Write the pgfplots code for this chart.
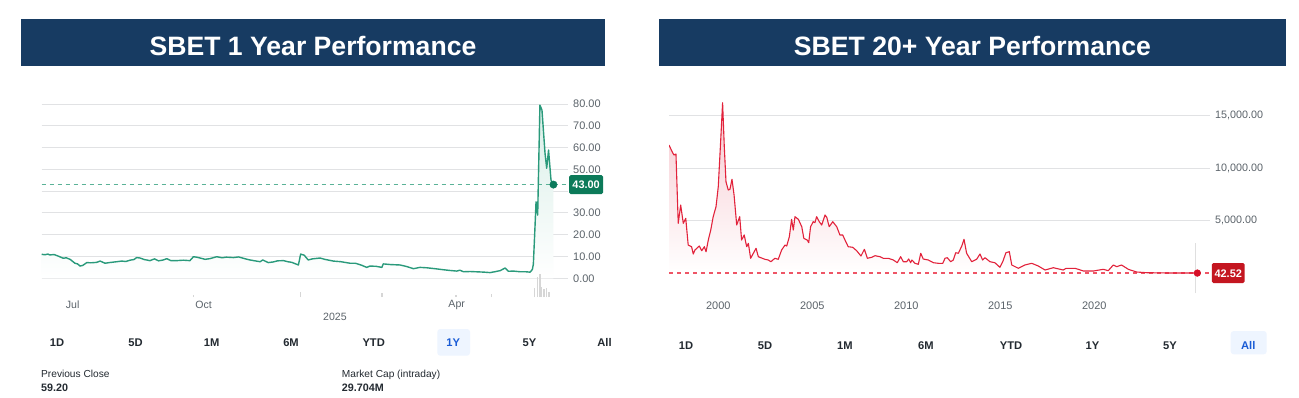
\documentclass[border=0pt]{standalone}
\usepackage{pgfplots}
\pgfplotsset{compat=1.18}
\usepackage{pgfplotstable}
\usepackage{fontspec}
\setmainfont{Liberation Sans}
\definecolor{banner}{HTML}{173B62}
\definecolor{tealline}{HTML}{2A9A7B}
\definecolor{tealdash}{HTML}{5AB297}
\definecolor{tealdot}{HTML}{0B7A5B}
\definecolor{tealbox}{HTML}{0C7A59}
\definecolor{tealfill}{HTML}{D8EEE7}
\definecolor{redline}{HTML}{E2223B}
\definecolor{rdsh}{HTML}{EE5566}
\definecolor{reddot}{HTML}{D70F27}
\definecolor{redbox}{HTML}{C41620}
\definecolor{redfill}{HTML}{F7C9D0}
\definecolor{gridgray}{HTML}{E1E2E4}
\definecolor{labgray}{HTML}{5B636A}
\definecolor{btntext}{HTML}{232A31}
\definecolor{btnblue}{HTML}{1A5CD6}
\definecolor{btnbg}{HTML}{EEF5FF}
\definecolor{vol}{HTML}{D6D6D6}

\pgfplotstableread{
d v
0 11.0
1.5 10.8
3 11.1
4 10.7
6 10.9
8 10.2
10.5 9.2
12 9.4
14 8.6
16.2 6.9
17.5 6.6
18.7 5.6
20 5.9
22 7.2
24 7.1
26.8 7.3
28.5 7.9
30.9 6.9
33 7.2
36.6 7.6
39 7.9
41 7.7
43.1 8.3
45 8.6
46.3 9.5
48 9.3
50 8.6
52.8 8.1
55 8.9
57 8.0
59.3 8.4
61 9.0
63 8.1
65.9 8.1
69 8.3
72.3 8.1
74 9.9
76 9.6
79.7 8.7
82 9.0
85.4 9.9
88 9.4
90 9.7
93.5 9.5
96 9.8
99 9.0
101.6 8.4
104 8.0
106.5 7.6
107.8 8.4
110.5 7.2
113 7.5
115 8.0
117.9 8.1
120 7.6
122 7.3
125.2 6.1
126.3 11.1
128 10.6
130 8.4
132 8.9
135.8 9.3
138 8.7
142.2 7.9
146 7.6
150.4 6.9
153 6.9
156 6.0
158.5 5.0
160.1 5.6
163 5.5
165.9 5.0
166.6 6.6
170 6.3
174.8 6.1
178 5.4
181.3 4.4
184.5 5.0
188 4.8
192.7 4.3
196 3.9
199 3.6
202.4 3.3
204 3.7
205.7 3.0
209 3.1
213.8 2.9
216 2.8
218.7 2.6
221 3.0
223.6 3.5
226 4.7
227.6 3.2
230 3.3
233.3 3.0
236 3.0
238.2 2.8
239.3 4.0
239.8 6.5
240.6 23.7
241.1 35.1
241.9 29.0
243 79.5
244 77.2
245.5 57.3
246.3 50.5
247.2 58.9
248.4 45.1
249.6 43.0
}\lefttab

\pgfplotstableread{
d h
74 2
126.3 5
166 4
202 2
219.5 3
240.3 9
241.7 20
242.7 14
243.1 23
243.8 10
245 8
246.2 9
247.5 5
}\leftvol

\pgfplotstableread{
yr v
1997.38 12192
1997.52 11651
1997.64 11243
1997.75 11338
1997.87 4763
1998.00 6499
1998.14 4763
1998.27 5237
1998.40 2704
1998.58 2543
1998.67 1850
1998.76 2230
1998.99 2609
1999.12 2163
1999.26 2543
1999.35 2068
1999.47 3178
1999.60 4127
1999.73 5389
1999.88 6338
2000.00 8235
2000.13 12666
2000.23 16205
2000.32 12030
2000.41 8710
2000.53 7922
2000.62 7989
2000.73 8937
2000.84 7448
2000.98 4601
2001.14 5389
2001.24 3178
2001.38 3653
2001.51 2543
2001.60 2865
2001.72 1442
2002.01 2391
2002.13 1594
2002.48 1347
2002.66 1281
2002.80 1120
2003.01 1442
2003.19 1347
2003.37 2230
2003.55 2704
2003.64 2609
2003.78 3491
2003.90 5142
2003.99 4127
2004.08 5389
2004.26 5142
2004.44 4440
2004.55 3340
2004.73 3178
2004.81 2922
2004.91 4440
2005.05 4915
2005.14 4820
2005.23 5389
2005.37 4915
2005.50 4601
2005.68 5550
2005.77 5332
2005.90 4440
2006.09 4915
2006.30 4440
2006.47 3653
2006.62 3653
2006.74 3178
2006.91 2543
2007.15 2486
2007.36 2163
2007.59 1660
2007.77 2296
2007.93 1442
2008.16 1537
2008.34 1689
2008.60 1594
2008.78 1442
2009.04 1442
2009.31 1281
2009.52 1025
2009.70 1594
2009.84 1120
2010.02 1120
2010.13 1376
2010.23 1025
2010.30 1281
2010.46 968
2010.64 873
2010.77 1917
2010.90 1376
2011.17 1281
2011.44 1025
2011.70 968
2011.94 968
2012.06 1442
2012.18 1499
2012.36 1120
2012.50 1281
2012.63 1973
2012.77 1917
2012.95 2609
2013.07 3245
2013.21 1917
2013.48 1120
2013.74 1347
2013.92 1850
2014.06 1281
2014.19 1499
2014.45 1120
2014.71 1025
2014.98 588
2015.13 1120
2015.30 1973
2015.48 2068
2015.61 806
2015.96 493
2016.31 806
2016.67 968
2017.02 712
2017.38 332
2017.82 550
2018.35 332
2018.50 493
2018.98 493
2019.42 237
2019.95 237
2020.48 398
2020.74 266
2021.01 806
2021.19 645
2021.45 806
2021.81 398
2022.25 142
2022.78 76
2023.85 50
2025.48 42.52
}\righttab

\begin{document}
\begin{tikzpicture}[x=1bp,y=1bp]
\fill[white] (0,0) rectangle (1299,397);
% banners
\fill[banner] (21,331) rectangle (605,378);
\fill[banner] (659,331) rectangle (1286,378);
\node[anchor=base, text=white, inner sep=0pt, font=\fontsize{26.7}{30}\selectfont\bfseries] at (313,342) {SBET 1 Year Performance};
\node[anchor=base, text=white, inner sep=0pt, font=\fontsize{26.7}{30}\selectfont\bfseries] at (972.5,342) {SBET 20+ Year Performance};

% ---------- left chart ----------
\begin{axis}[
  at={(41.7bp,100bp)}, anchor=south west,
  scale only axis, width=526.3bp, height=193bp,
  xmin=0, xmax=256.7, ymin=-8.6, ymax=80,
  clip mode=individual,
  axis line style={draw=none},
  major tick length=0pt,
  ytick={0,10,20,30,40,50,60,70,80},
  yticklabels={0.00,10.00,20.00,30.00,{},50.00,60.00,70.00,80.00},
  yticklabel pos=right,
  ymajorgrids=true, major grid style={draw=gridgray, line width=0.9bp},
  yticklabel style={font=\fontsize{11}{12}\selectfont, text=labgray, anchor=west, inner sep=0pt, xshift=5bp},
  xtick={15.1,79,202.4}, xticklabels={Jul,Oct,Apr},
  xticklabel style={font=\fontsize{10.6}{12}\selectfont, text=labgray, inner sep=0pt, yshift=-3.5bp},
  extra x ticks={143}, extra x tick labels={2025},
  extra x tick style={xticklabel style={yshift=-12.6bp}},
]
\addplot[draw=none, top color=tealfill, bottom color=white] table[x=d,y=v] {\lefttab} \closedcycle;
\addplot[draw=tealdash, line width=1bp, dash pattern=on 4bp off 4bp] coordinates {(0,43) (256.7,43)};
\addplot[draw=tealline, line width=1.4bp, line join=round] table[x=d,y=v] {\lefttab};
\addplot[only marks, mark=*, mark size=3.7bp, tealdot] coordinates {(249.6,43)};
\node[anchor=west, fill=tealbox, text=white, font=\fontsize{11}{12}\selectfont\bfseries, inner xsep=3.2bp, inner ysep=5.5bp, text height=8bp, text depth=0bp, rounded corners=1.5bp, xshift=1bp] at (axis cs:256.7,43) {43.00};
\end{axis}
\begin{axis}[
  at={(41.7bp,100bp)}, anchor=south west,
  scale only axis, width=526.3bp, height=193bp,
  xmin=0, xmax=256.7, ymin=0, ymax=193,
  hide axis,
]
\addplot[ycomb, vol, line width=1.4bp] table[x=d,y=h] {\leftvol};
\end{axis}

% ---------- right chart ----------
\begin{axis}[
  at={(669bp,104bp)}, anchor=south west,
  scale only axis, width=541bp, height=193.4bp,
  xmin=1997.38, xmax=2026.155, ymin=-1850, ymax=16500,
  clip mode=individual,
  axis line style={draw=none},
  major tick length=0pt,
  scaled y ticks=false,
  ytick={5000,10000,15000},
  yticklabels={{5,000.00},{10,000.00},{15,000.00}},
  yticklabel pos=right,
  ymajorgrids=true, major grid style={draw=gridgray, line width=0.9bp},
  yticklabel style={font=\fontsize{10.8}{12}\selectfont, text=labgray, anchor=west, inner sep=0pt, xshift=5bp},
  xtick={2000,2005,2010,2015,2020}, xticklabels={2000,2005,2010,2015,2020},
  xticklabel style={font=\fontsize{11}{12}\selectfont, text=labgray, inner sep=0pt, yshift=-8.5bp},
]
\addplot[draw=none, top color=redfill, bottom color=white] table[x=yr,y=v] {\righttab} \closedcycle;
\addplot[draw=gray!25, line width=0.8bp] coordinates {(2025.37,-1850) (2025.37,2900)};
\addplot[draw=rdsh, line width=1.2bp, dash pattern=on 4bp off 4bp] coordinates {(1997.38,42.52) (2026.155,42.52)};
\addplot[draw=redline, line width=1.1bp, line join=round] table[x=yr,y=v] {\righttab};
\addplot[only marks, mark=*, mark size=3.4bp, reddot] coordinates {(2025.48,42.52)};
\node[anchor=west, fill=redbox, text=white, font=\fontsize{11}{12}\selectfont\bfseries, inner xsep=2.6bp, inner ysep=6bp, text height=8bp, text depth=0bp, rounded corners=1.5bp, xshift=1.7bp] at (axis cs:2026.155,42.52) {42.52};
\end{axis}

% ---------- range buttons ----------
\fill[btnbg, rounded corners=3bp] (437.3,41.3) rectangle (470,68);
\fill[btnbg, rounded corners=3bp] (1230.7,42.7) rectangle (1266.7,66);
\begin{scope}[every node/.style={anchor=base, inner sep=0pt, font=\fontsize{11.2}{12}\selectfont\bfseries, text=btntext}]
\node at (57,50.3) {1D};
\node at (135.5,50.3) {5D};
\node at (211.7,50.3) {1M};
\node at (291,50.3) {6M};
\node at (373.7,50.3) {YTD};
\node[text=btnblue] at (453.3,50.3) {1Y};
\node at (529.5,50.3) {5Y};
\node at (604.5,50.3) {All};
\node at (686,48) {1D};
\node at (765,48) {5D};
\node at (844.8,48) {1M};
\node at (925.8,48) {6M};
\node at (1011,48) {YTD};
\node at (1092.5,48) {1Y};
\node at (1170,48) {5Y};
\node[text=btnblue] at (1248.3,48) {All};
\end{scope}
\begin{scope}[every node/.style={anchor=base west, inner sep=0pt, text=btntext}]
\node[font=\fontsize{10.2}{12}\selectfont] at (41,19.3) {Previous Close};
\node[font=\fontsize{10.8}{12}\selectfont\bfseries] at (41,5.3) {59.20};
\node[font=\fontsize{10.2}{12}\selectfont] at (341.7,19.3) {Market Cap (intraday)};
\node[font=\fontsize{10.8}{12}\selectfont\bfseries] at (341.7,5.3) {29.704M};
\end{scope}
\end{tikzpicture}
\end{document}
